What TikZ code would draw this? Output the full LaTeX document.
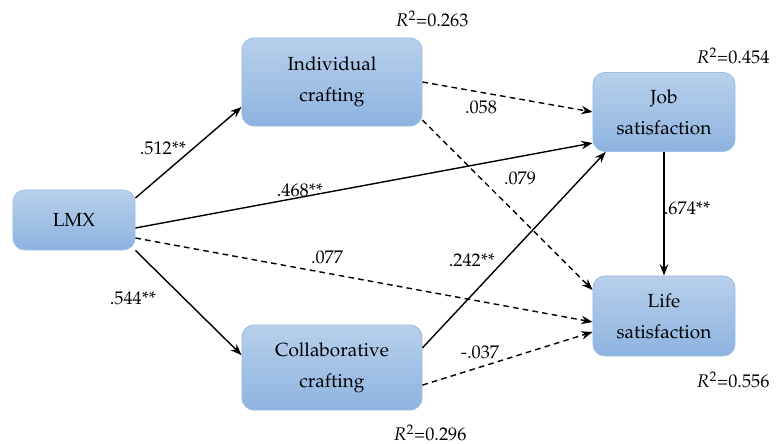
\documentclass[tikz,border=0pt]{standalone}
\usepackage[T1]{fontenc}
\usepackage{mathpazo}
\usepackage{tikz}
\usetikzlibrary{arrows.meta}

\begin{document}
\begin{tikzpicture}[x = 0.025cm, y = -0.025cm,
		box/.style = {draw = boxline, line width = 0.6pt, rounded corners = 0.3cm,
			top color = boxtop, bottom color = boxbottom, align = center,
			font = \fontsize{13.5}{22}\selectfont},
		link/.style = {line width = 1pt, -{Stealth[length = 8pt, width = 6pt]}},
		weak/.style = {link, dash pattern = on 4pt off 3pt},
		coef/.style = {font = \fontsize{13}{15}\selectfont}]
			\definecolor{boxtop}{HTML}{B8D0EC}
			\definecolor{boxbottom}{HTML}{8DB3E0}
			\definecolor{boxline}{HTML}{9CBDE6}
			\useasboundingbox (0,0) rectangle (784,444);

			\begin{scope}
				\node [box, minimum width = 3.05cm, minimum height = 1.5cm] (LMX) at (74,220) {LMX};
				\node [box, minimum width = 4.5cm, minimum height = 2.2cm] (IC) at (332,82) {Individual\\crafting};
				\node [box, minimum width = 4.5cm, minimum height = 2.125cm] (CC) at (332,367.5) {Collaborative\\crafting};
				\node [box, minimum width = 3.55cm, minimum height = 1.975cm] (JS) at (664,112) {Job\\satisfaction};
				\node [box, minimum width = 3.55cm, minimum height = 2cm] (LS) at (664,316) {Life\\satisfaction};
			\end{scope}

			\begin{scope}
				\draw [link] ([yshift = 0.55cm]LMX.east) to ([yshift = -0.625cm]IC.west);
				\draw [link] ([yshift = -0.2cm]LMX.east) to ([yshift = -0.775cm]JS.west);
				\draw [weak] ([yshift = -0.45cm]LMX.east) to ([yshift = -0.15cm]LS.west);
				\draw [link] (LMX.south east) to ([yshift = 0.31cm]CC.west);
				\draw [weak] (IC.east) to (JS.west);
				\draw [weak] ([yshift = -0.95cm]IC.east) to ([yshift = 0.65cm]LS.west);
				\draw [link] ([yshift = 0.49cm]CC.east) to ([xshift = 0.33cm]JS.south west);
				\draw [weak] ([yshift = -0.44cm]CC.east) to ([yshift = -0.4cm]LS.west);
				\draw [link] (JS.south) to (LS.north);
			\end{scope}

			\begin{scope}[coef]
				\node (c1) at (163,148) {.512**};
				\node (c2) at (300,190) {.468**};
				\node (c3) at (327,257) {.077};
				\node (c4) at (133,298) {.544**};
				\node (c5) at (481,107) {.058};
				\node (c6) at (520,178) {.079};
				\node (c7) at (472,260) {.242**};
				\node (c8) at (480,352) {-.037};
				\node (c9) at (687,208) {.674**};
			\end{scope}

			\begin{scope}[coef]
				\node (r1) at (432,19) {$R^2$=0.263};
				\node (r2) at (733,56) {$R^2$=0.454};
				\node (r3) at (733,380) {$R^2$=0.556};
				\node (r4) at (430,433) {$R^2$=0.296};
			\end{scope}
		\end{tikzpicture}
\end{document}
